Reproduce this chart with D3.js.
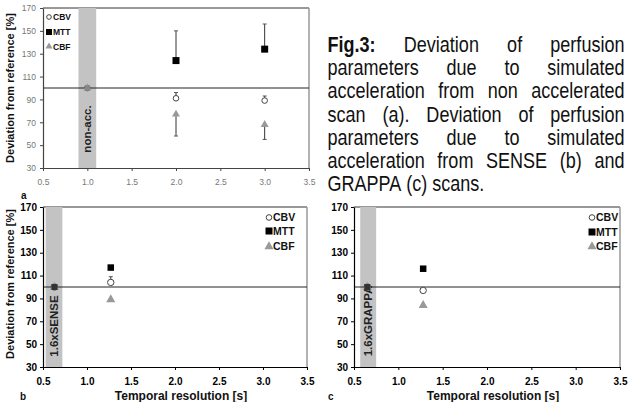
<!DOCTYPE html>
<html>
<head>
<meta charset="utf-8">
<script src="https://cdn.jsdelivr.net/npm/d3@7"></script>
<style>
  body { margin: 0; background: #fff; }
  svg { display: block; font-family: "Liberation Sans", Arial, sans-serif; }
</style>
</head>
<body>
<div id="chart"></div>
<script>
// ---- data ----
const seriesNames = ["CBV", "MTT", "CBF"]
const xTicks = [0.5, 1, 1.5, 2, 2.5, 3, 3.5]
const yTicks = [30, 50, 70, 90, 110, 130, 150, 170]

// panel a: non accelerated
const aX = [1, 2, 3]
const aCBV = [100, 91, 89]
const aMTT = [100, 124, 134]
const aCBF = [100, 77, 68]
const aCBVerr = [null, 96, 93]      // error bar end
const aMTTerr = [null, 150, 156]
const aCBFerr = [null, 58, 55]
const aBand = [0.9, 1.1]

// panel b: SENSE
const bX = [0.63, 1.27]
const bCBV = [100, 104]
const bMTT = [100, 117]
const bCBF = [100, 89]
const bCBVerr = [null, 109]
const bBand = [0.53, 0.72]

// panel c: GRAPPA
const cX = [0.65, 1.28]
const cCBV = [100, 97]
const cMTT = [100, 116]
const cCBF = [100, 84]
const cBand = [0.57, 0.75]

const captionLines = [
  ["Fig.3:", "Deviation", "of", "perfusion"],
  ["parameters", "due", "to", "simulated"],
  ["acceleration", "from", "non", "accelerated"],
  ["scan", "(a).", "Deviation", "of", "perfusion"],
  ["parameters", "due", "to", "simulated"],
  ["acceleration", "from", "SENSE", "(b)", "and"],
  ["GRAPPA", "(c)", "scans."]
]

const svg = d3.select("#chart").append("svg")
  .attr("width", 629)
  .attr("height", 402)

function drawPanel(p) {
  const x = d3.scaleLinear().domain([0.5, 3.5]).range([p.l, p.r])
  const y = d3.scaleLinear().domain([30, 170]).range([p.b, p.t])
  const g = svg.append("g")
  const axisCol = p.light ? "#444" : "#000"

  // frame
  g.append("line").attr("x1", p.l).attr("x2", p.r).attr("y1", p.t).attr("y2", p.t)
    .attr("stroke", "#333").attr("stroke-width", 1)
  g.append("line").attr("x1", p.r).attr("x2", p.r).attr("y1", p.t).attr("y2", p.b)
    .attr("stroke", "#999").attr("stroke-width", 1.5)

  // gray band
  g.append("rect")
    .attr("x", x(p.band[0])).attr("width", x(p.band[1]) - x(p.band[0]))
    .attr("y", p.t).attr("height", p.b - p.t)
    .attr("fill", "#c3c3c3")

  g.append("text")
    .attr("transform", `translate(${x((p.band[0] + p.band[1]) / 2) + 4},${p.bandY}) rotate(-90)`)
    .attr("text-anchor", "middle")
    .attr("font-size", p.bandSize)
    .attr("font-weight", "bold")
    .attr("fill", "#222")
    .text(p.bandText)

  // reference line at 100
  g.append("line").attr("x1", p.l).attr("x2", p.r).attr("y1", y(100)).attr("y2", y(100))
    .attr("stroke", "#222").attr("stroke-width", 1)

  // axes
  const xa = g.append("g").attr("transform", `translate(0,${p.b})`)
    .call(d3.axisBottom(x).tickValues(xTicks).tickSize(3).tickSizeOuter(0).tickPadding(p.light ? 8 : 8))
  const ya = g.append("g").attr("transform", `translate(${p.l},0)`)
    .call(d3.axisLeft(y).tickValues(yTicks).tickSize(3).tickSizeOuter(0).tickPadding(p.light ? 4 : 3))
  for (const a of [xa, ya]) {
    a.select(".domain").attr("stroke", axisCol).attr("stroke-width", 1.2)
    a.selectAll(".tick line").attr("stroke", axisCol)
    a.selectAll("text")
      .attr("font-family", "Liberation Sans, Arial, sans-serif")
      .attr("font-size", p.light ? 8.5 : 10)
      .attr("font-weight", p.light ? "normal" : "bold")
      .attr("fill", p.light ? "#777" : "#000")
  }

  // error bars
  const errs = [p.cbvErr, p.mttErr, p.cbfErr]
  const vals = [p.cbv, p.mtt, p.cbf]
  errs.forEach((e, si) => {
    if (!e) return
    e.forEach((end, i) => {
      if (end == null) return
      const cx = x(p.xs[i])
      g.append("line").attr("x1", cx).attr("x2", cx)
        .attr("y1", y(vals[si][i])).attr("y2", y(end))
        .attr("stroke", "#333").attr("stroke-width", 1)
      g.append("line").attr("x1", cx - 2).attr("x2", cx + 2)
        .attr("y1", y(end)).attr("y2", y(end))
        .attr("stroke", "#555").attr("stroke-width", 1)
    })
  })

  // markers: circle, then triangle, then square on top
  g.selectAll(".cbv").data(p.xs.map((v, i) => [v, p.cbv[i]])).enter()
    .append("circle")
    .attr("cx", d => x(d[0])).attr("cy", d => y(d[1]))
    .attr("r", p.light ? 2.8 : 3.2)
    .attr("fill", "#fff").attr("stroke", "#444").attr("stroke-width", 1)
  const tri = d3.symbol().type(d3.symbolTriangle).size(p.light ? 28 : 36)
  g.selectAll(".cbf").data(p.xs.map((v, i) => [v, p.cbf[i]])).enter()
    .append("path").attr("d", tri)
    .attr("transform", d => `translate(${x(d[0])},${y(d[1])})`)
    .attr("fill", "#999")
  g.selectAll(".mtt").data(p.xs.map((v, i) => [v, p.mtt[i]])).enter()
    .append("rect")
    .each(function (d, i) {
      const s = i === 0 ? (p.light ? 5 : 6) : (p.light ? 7 : 6.5)
      d3.select(this)
        .attr("x", x(d[0]) - s / 2).attr("y", y(d[1]) - s / 2)
        .attr("width", s).attr("height", s)
        .attr("fill", i === 0 ? (p.light ? "#888" : "#333") : "#000")
    })

  // legend
  const lg = g.append("g")
  seriesNames.forEach((name, i) => {
    const ly = p.legY[i]
    if (name === "CBV") {
      lg.append("circle").attr("cx", p.legX).attr("cy", ly).attr("r", p.light ? 2.3 : 2.8)
        .attr("fill", "#fff").attr("stroke", "#444")
    } else if (name === "MTT") {
      const s = p.light ? 6 : 7
      lg.append("rect").attr("x", p.legX - s / 2).attr("y", ly - s / 2)
        .attr("width", s).attr("height", s).attr("fill", "#000")
    } else {
      lg.append("path").attr("d", d3.symbol().type(d3.symbolTriangle).size(p.light ? 22 : 36))
        .attr("transform", `translate(${p.legX},${ly})`).attr("fill", "#999")
    }
    lg.append("text").attr("x", p.legX + 4).attr("y", ly + (p.light ? 3 : 3.8))
      .attr("font-size", p.light ? 8.5 : 10.5).attr("font-weight", "bold")
      .attr("fill", "#111").text(name)
  })

  // axis titles and panel letter
  if (p.yTitle) {
    g.append("text")
      .attr("transform", `translate(14,${p.yTitleY}) rotate(-90)`)
      .attr("text-anchor", "middle").attr("font-size", 11).attr("font-weight", "bold")
      .attr("fill", "#111")
      .text("Deviation from reference [%]")
  }
  if (p.xTitle) {
    g.append("text").attr("x", (p.l + p.r) / 2 + 6).attr("y", 400)
      .attr("text-anchor", "middle").attr("font-size", 12).attr("font-weight", "bold")
      .attr("fill", "#111")
      .text("Temporal resolution [s]")
  }
  g.append("text").attr("x", p.letterX).attr("y", p.letterY)
    .attr("font-size", 10).attr("font-weight", "bold").attr("fill", "#111")
    .text(p.letter)
}

drawPanel({
  l: 43, r: 309, t: 8, b: 168, light: true,
  xs: aX, cbv: aCBV, mtt: aMTT, cbf: aCBF,
  cbvErr: aCBVerr, mttErr: aMTTerr, cbfErr: aCBFerr,
  band: aBand, bandText: "non-acc.", bandY: 129, bandSize: 11.5,
  legX: 49, legY: [17, 32, 46.5],
  yTitle: true, yTitleY: 88, xTitle: false,
  letter: "a", letterX: 21, letterY: 199
})
drawPanel({
  l: 43, r: 307, t: 207, b: 367, light: false,
  xs: bX, cbv: bCBV, mtt: bMTT, cbf: bCBF,
  cbvErr: bCBVerr, mttErr: null, cbfErr: null,
  band: bBand, bandText: "1.6xSENSE", bandY: 326, bandSize: 11.5,
  legX: 269, legY: [217.5, 231, 246.5],
  yTitle: true, yTitleY: 284, xTitle: true,
  letter: "b", letterX: 20, letterY: 400
})
drawPanel({
  l: 354, r: 620, t: 207, b: 367, light: false,
  xs: cX, cbv: cCBV, mtt: cMTT, cbf: cCBF,
  cbvErr: null, mttErr: null, cbfErr: null,
  band: cBand, bandText: "1.6xGRAPPA", bandY: 321, bandSize: 11.5,
  legX: 592, legY: [217.5, 232, 246.5],
  yTitle: false, xTitle: true,
  letter: "c", letterX: 328, letterY: 400
})

// caption, justified, condensed font
const squeeze = 0.82
const capLeft = 327.5, capRight = 624.5
const cap = svg.append("g").attr("transform", `translate(${capLeft},0) scale(${squeeze},1)`)
const lineW = (capRight - capLeft) / squeeze
captionLines.forEach((words, li) => {
  const by = 51.7 + li * 23.3
  const nodes = words.map(w => cap.append("text")
    .attr("y", by).attr("font-size", 22).attr("fill", "#111")
    .attr("font-weight", w === "Fig.3:" ? "bold" : "normal")
    .text(w))
  const widths = nodes.map(n => n.node().getComputedTextLength())
  const total = d3.sum(widths)
  const last = li === captionLines.length - 1
  const gap = last ? 6 : (lineW - total) / (words.length - 1)
  let cx = 0
  nodes.forEach((n, i) => { n.attr("x", cx); cx += widths[i] + gap })
})
</script>
</body>
</html>
